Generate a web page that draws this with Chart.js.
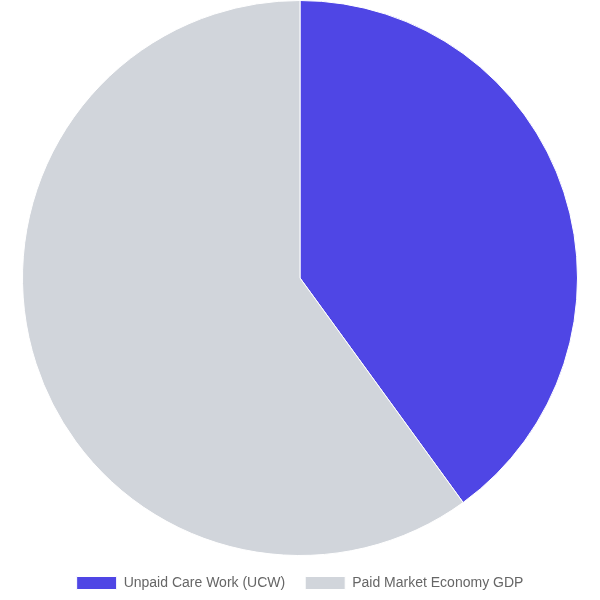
<!DOCTYPE html>
<html>
<head>
<meta charset="utf-8">
<script src="https://cdn.jsdelivr.net/npm/chart.js@4/dist/chart.umd.min.js"></script>
<style>
  html, body { margin: 0; padding: 0; background: #fff; }
  #wrap { width: 600px; height: 600px; }
</style>
</head>
<body>
<div id="wrap"><canvas id="chart"></canvas></div>
<script>
const labels = ['Unpaid Care Work (UCW)', 'Paid Market Economy GDP'];
const values = [40, 60];
const colors = ['#4f46e5', '#d1d5db'];

Chart.defaults.font.family = "'Liberation Sans', Arial, sans-serif";

document.addEventListener('DOMContentLoaded', function() {
    const ctx = document.getElementById('chart').getContext('2d');
    new Chart(ctx, {
        type: 'pie',
        data: {
            labels: labels,
            datasets: [{
                data: values,
                backgroundColor: colors,
                borderColor: '#fff',
                borderWidth: 1
            }]
        },
        options: {
            responsive: true,
            maintainAspectRatio: false,
            animation: false,
            plugins: {
                legend: {
                    position: 'bottom',
                    labels: {
                        color: '#666',
                        font: { size: 14 },
                        boxWidth: 40,
                        boxHeight: 13,
                        padding: 20
                    }
                }
            }
        }
    });
});
</script>
</body>
</html>
